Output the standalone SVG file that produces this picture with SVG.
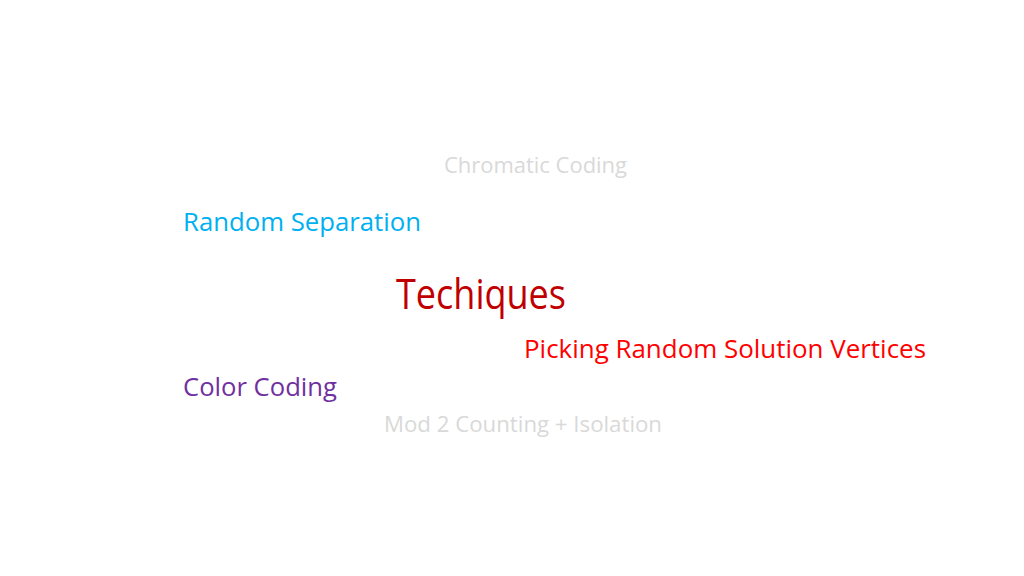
<svg xmlns="http://www.w3.org/2000/svg" width="1024" height="576" viewBox="0 0 1024 576">
<style>
text{font-family:"Open Sans","Liberation Sans",sans-serif}
.g{fill:#D9D9D9;font-size:21px}
.m{font-size:25px}
</style>
<rect width="1024" height="576" fill="#FFFFFF"/>
<g id="chromatic"><text class="g" x="444" y="173" textLength="183" lengthAdjust="spacingAndGlyphs">Chromatic Coding</text></g>
<g id="random-separation"><text class="m" x="183" y="230.5" fill="#00B0F0" textLength="238" lengthAdjust="spacingAndGlyphs">Random Separation</text></g>
<g id="techiques"><text x="396" y="308.5" fill="#C00000" font-size="42" textLength="170" lengthAdjust="spacingAndGlyphs">Techiques</text></g>
<g id="picking"><text class="m" x="524" y="358" fill="#FF0000" textLength="402" lengthAdjust="spacingAndGlyphs">Picking Random Solution Vertices</text></g>
<g id="color-coding"><text class="m" x="183" y="396" fill="#7030A0" textLength="154" lengthAdjust="spacingAndGlyphs">Color Coding</text></g>
<g id="mod2"><text class="g" x="384" y="432" textLength="278" lengthAdjust="spacingAndGlyphs">Mod 2 Counting + Isolation</text></g>
<g id="connectors"></g>
</svg>
